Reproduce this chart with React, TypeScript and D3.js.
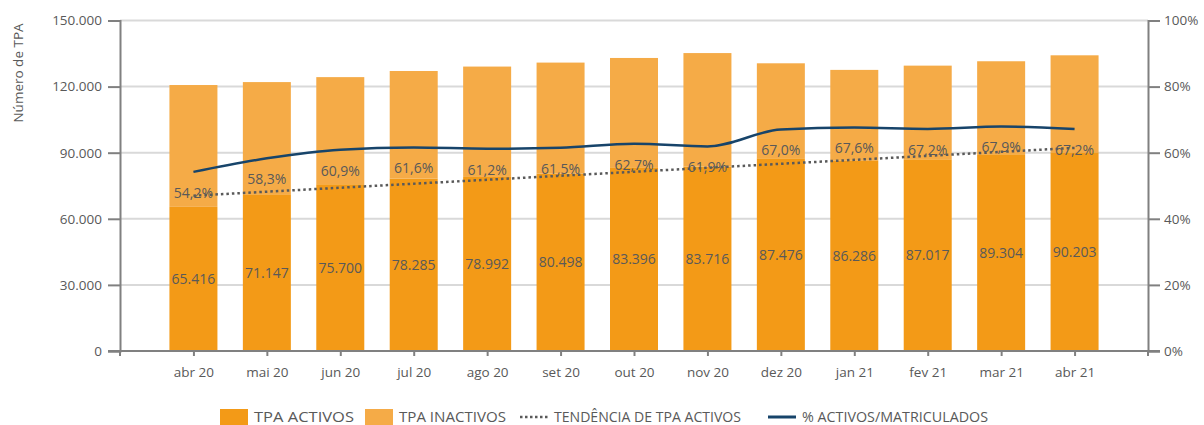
import React, { useEffect, useRef } from "react";
import * as d3 from "d3";

const months = ["abr 20", "mai 20", "jun 20", "jul 20", "ago 20", "set 20", "out 20", "nov 20", "dez 20", "jan 21", "fev 21", "mar 21", "abr 21"];
const activos = [65416, 71147, 75700, 78285, 78992, 80498, 83396, 83716, 87476, 86286, 87017, 89304, 90203];
const inactivos = [55300, 50900, 48600, 48800, 50100, 50400, 49600, 51500, 43100, 41300, 42500, 42200, 44000];
const pctActivos = [54.2, 58.3, 60.9, 61.6, 61.2, 61.5, 62.7, 61.9, 67.0, 67.6, 67.2, 67.9, 67.2];
const leftTicks = [0, 30000, 60000, 90000, 120000, 150000];
const rightTicks = [0, 20, 40, 60, 80, 100];
const legendLabels = ["TPA ACTIVOS", "TPA INACTIVOS", "TENDÊNCIA DE TPA ACTIVOS", "% ACTIVOS/MATRICULADOS"];

const C_ACT = "#F39A17";
const C_INACT = "#F5AB47";
const C_LINE = "#17446A";
const C_TEXT = "#595959";
const FONT = "'Open Sans', sans-serif";

const fmtNum = (v: number) => d3.format(",")(v).replace(/,/g, ".");
const fmtPct = (v: number) => v.toFixed(1).replace(".", ",") + "%";

export default function App() {
  const ref = useRef<SVGSVGElement>(null);

  useEffect(() => {
    const width = 1204;
    const height = 425;
    const left = 120, right = 1148, top = 20.5, bottom = 351;

    const svg = d3.select(ref.current).attr("width", width).attr("height", height);
    svg.selectAll("*").remove();

    const x = d3.scalePoint<string>().domain(months).range([left, right]).padding(1);
    const barW = 48;
    const y = d3.scaleLinear().domain([0, 150000]).range([bottom, top]);
    const yR = d3.scaleLinear().domain([0, 100]).range([bottom, top]);

    // gridlines
    svg.append("g").selectAll("line").data(leftTicks.slice(1)).enter().append("line")
      .attr("x1", left).attr("x2", right)
      .attr("y1", d => y(d)).attr("y2", d => y(d))
      .attr("stroke", "#D9D9D9").attr("stroke-width", 2);

    // bars
    const g = svg.append("g");
    g.selectAll(".act").data(activos).enter().append("rect")
      .attr("x", (d, i) => x(months[i])! - barW / 2)
      .attr("y", d => y(d))
      .attr("width", barW)
      .attr("height", d => bottom - y(d))
      .attr("fill", C_ACT);
    g.selectAll(".inact").data(inactivos).enter().append("rect")
      .attr("x", (d, i) => x(months[i])! - barW / 2)
      .attr("y", (d, i) => y(d + activos[i]))
      .attr("width", barW)
      .attr("height", (d) => bottom - y(d))
      .attr("fill", C_INACT);

    // axes
    const axisColor = "#808080";
    const ax = (sel: any) => {
      sel.select(".domain").attr("stroke", axisColor).attr("stroke-width", 2);
      sel.selectAll(".tick line").attr("stroke", axisColor).attr("stroke-width", 2);
      sel.selectAll("text").attr("fill", C_TEXT).style("font-family", FONT).style("font-size", "13.5px");
    };
    svg.append("g").attr("transform", `translate(${left},0)`)
      .call(d3.axisLeft(y).tickValues(leftTicks).tickFormat(d => fmtNum(+d)).tickSizeOuter(0).tickSize(12).tickPadding(6))
      .call(ax);
    svg.append("g").attr("transform", `translate(${right},0)`)
      .call(d3.axisRight(yR).tickValues(rightTicks).tickFormat(d => d + "%").tickSizeOuter(0).tickSize(12).tickPadding(4))
      .call(ax);
    const xa = svg.append("g").attr("transform", `translate(0,${bottom})`)
      .call(d3.axisBottom(x).tickSizeOuter(0).tickSize(5).tickPadding(11))
      .call(ax);
    xa.select(".domain").attr("d", `M${left - 12},0H${right + 12}`);
    [left, right].forEach(px => xa.append("line").attr("x1", px).attr("x2", px).attr("y1", 0).attr("y2", 5)
      .attr("stroke", axisColor).attr("stroke-width", 2));
    xa.selectAll(".tick text").attr("dy", "0.71em");

    // value labels
    g.selectAll(".vlab").data(activos).enter().append("text")
      .attr("x", (d, i) => x(months[i])!)
      .attr("y", d => (y(d) + bottom) / 2)
      .attr("dy", "0.35em")
      .attr("text-anchor", "middle")
      .attr("fill", C_TEXT)
      .style("font-family", FONT).style("font-size", "14px")
      .text(d => fmtNum(d));

    // trend line (linear regression of activos)
    const n = activos.length;
    const mx = (n - 1) / 2;
    const my = d3.mean(activos)!;
    const slope = d3.sum(activos, (v, i) => (i - mx) * (v - my)) / d3.sum(activos, (v, i) => (i - mx) ** 2);
    const trend = activos.map((v, i) => my + slope * (i - mx));
    svg.append("path")
      .datum(trend)
      .attr("d", d3.line<number>().x((d, i) => x(months[i])!).y(d => y(d)))
      .attr("fill", "none").attr("stroke", C_TEXT).attr("stroke-width", 2.5)
      .attr("stroke-dasharray", "2.5,3");

    // % line
    svg.append("path")
      .datum(pctActivos)
      .attr("d", d3.line<number>().x((d, i) => x(months[i])!).y(d => yR(d)).curve(d3.curveMonotoneX))
      .attr("fill", "none").attr("stroke", C_LINE).attr("stroke-width", 2.5);

    svg.append("g").selectAll("text").data(pctActivos).enter().append("text")
      .attr("x", (d, i) => x(months[i])!)
      .attr("y", d => yR(d) + 21)
      .attr("dy", "0.35em")
      .attr("text-anchor", "middle")
      .attr("fill", C_TEXT)
      .style("font-family", FONT).style("font-size", "14px")
      .text(d => fmtPct(d));

    // y title
    svg.append("text")
      .attr("transform", "translate(23,73) rotate(-90)")
      .attr("text-anchor", "middle")
      .attr("fill", C_TEXT)
      .style("font-family", FONT).style("font-size", "13.5px")
      .text("Número de TPA");

    // legend
    const lg = svg.append("g").style("font-family", FONT).style("font-size", "14px");
    const ly = 417;
    const items = [
      { x: 220, w: 100, type: "rect", color: C_ACT },
      { x: 365, w: 107, type: "rect", color: C_INACT },
      { x: 520, w: 187, type: "dot", color: C_TEXT },
      { x: 768, w: 186, type: "line", color: C_LINE },
    ];
    items.forEach((it, i) => {
      if (it.type === "rect") {
        lg.append("rect").attr("x", it.x).attr("y", ly - 8).attr("width", 28).attr("height", 16).attr("fill", it.color);
      } else {
        lg.append("line").attr("x1", it.x).attr("x2", it.x + 28).attr("y1", ly).attr("y2", ly)
          .attr("stroke", it.color).attr("stroke-width", it.type === "dot" ? 2.5 : 3)
          .attr("stroke-dasharray", it.type === "dot" ? "2.5,2.5" : null);
      }
      lg.append("text").attr("x", it.x + 34).attr("y", ly).attr("dy", "0.35em")
        .attr("textLength", it.w).attr("lengthAdjust", "spacingAndGlyphs")
        .attr("fill", C_TEXT).text(legendLabels[i]);
    });
  }, []);

  return (
    <svg ref={ref} style={{ position: "absolute", left: 0, top: 0 }}></svg>
  );
}
